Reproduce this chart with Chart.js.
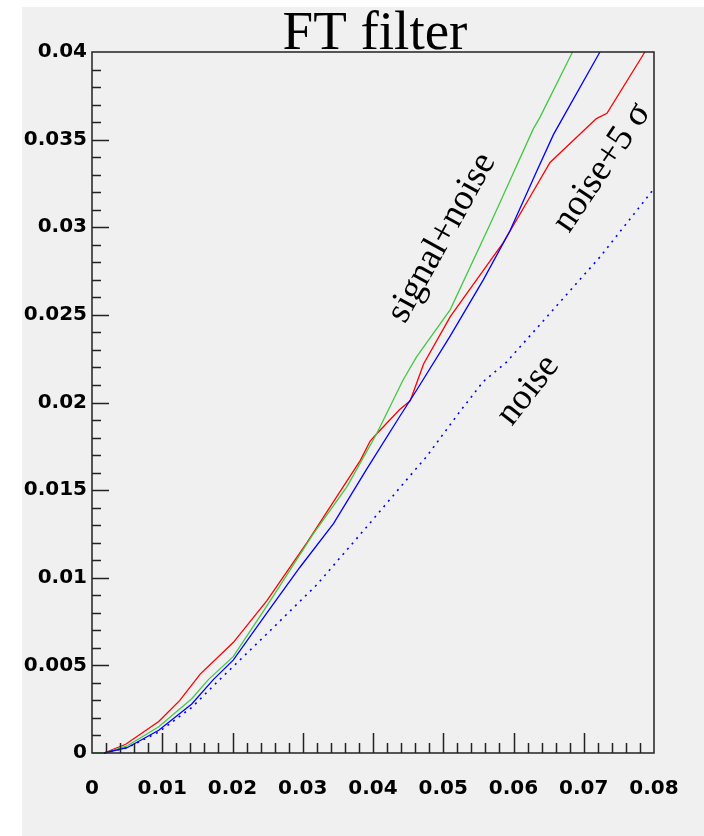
<!DOCTYPE html>
<html>
<head>
<meta charset="utf-8">
<title>FT filter</title>
<script src="https://cdn.jsdelivr.net/npm/chart.js@4.4.1/dist/chart.umd.min.js"></script>
<style>
  html, body { margin: 0; padding: 0; background: #ffffff; }
  canvas { display: block; }
</style>
</head>
<body>
<canvas id="ftChart" width="704" height="836"></canvas>
<script>
// efficiency curves, x and y kept separately per curve
const greenX = [0, 0.0017, 0.005, 0.0095, 0.0142, 0.0166, 0.0201, 0.0249, 0.0315, 0.0363, 0.0405, 0.0443, 0.0462, 0.0510, 0.0567, 0.0584, 0.0628, 0.0638, 0.0684]
const greenY = [0, 0, 0.0004, 0.0015, 0.0031, 0.0042, 0.0055, 0.0084, 0.0125, 0.0152, 0.0182, 0.0213, 0.0226, 0.0253, 0.0302, 0.0317, 0.0356, 0.0363, 0.04]

const blueX = [0.0017, 0.005, 0.0095, 0.0142, 0.0173, 0.0201, 0.0249, 0.0296, 0.0344, 0.0391, 0.0438, 0.0462, 0.0510, 0.0557, 0.0595, 0.0633, 0.0657, 0.0723]
const blueY = [0, 0.0003, 0.0013, 0.0028, 0.0042, 0.0053, 0.0080, 0.0106, 0.0131, 0.0162, 0.0192, 0.0207, 0.0238, 0.0270, 0.0298, 0.0332, 0.0353, 0.04]

const redX = [0.0017, 0.0048, 0.0095, 0.0125, 0.0154, 0.0201, 0.0249, 0.0306, 0.0348, 0.0382, 0.0396, 0.0405, 0.0438, 0.0453, 0.0472, 0.0510, 0.0567, 0.0585, 0.0623, 0.0652, 0.0718, 0.0733, 0.0787]
const redY = [0, 0.0005, 0.0018, 0.0030, 0.0045, 0.0063, 0.0087, 0.0120, 0.0146, 0.0167, 0.0178, 0.0182, 0.0196, 0.0201, 0.0222, 0.0249, 0.0281, 0.0291, 0.0317, 0.0337, 0.0362, 0.0365, 0.04]

const noiseX = [0.0017, 0.005, 0.0095, 0.0142, 0.0182, 0.0249, 0.0320, 0.0391, 0.0448, 0.0476, 0.0524, 0.0557, 0.0590, 0.0661, 0.0723, 0.0800]
const noiseY = [0, 0.0003, 0.0012, 0.0026, 0.0042, 0.0068, 0.0096, 0.0129, 0.0156, 0.0169, 0.0195, 0.0212, 0.0223, 0.0255, 0.0283, 0.0322]

const xTickLabels = ['0', '0.01', '0.02', '0.03', '0.04', '0.05', '0.06', '0.07', '0.08']
const yTickLabels = ['0', '0.005', '0.01', '0.015', '0.02', '0.025', '0.03', '0.035', '0.04']

// curve labels: text, anchor in data units, rotation in degrees
const curveLabels = ['signal+noise', 'noise', 'noise+5 σ']
const curveLabelX = [0.0498, 0.0621, 0.0726]
const curveLabelY = [0.0294, 0.0207, 0.0334]
const curveLabelAngle = [-61, -52, -56]

const BG = '#f0f0f0'
const INK = '#222222'

function toPoints(xs, ys) {
    return xs.map((x, i) => ({ x: x, y: ys[i] }))
}

const backdrop = {
    id: 'backdrop',
    beforeDraw(chart) {
        const ctx = chart.ctx
        ctx.save()
        ctx.fillStyle = '#ffffff'
        ctx.fillRect(0, 0, chart.width, chart.height)
        ctx.fillStyle = BG
        ctx.fillRect(22, 7, chart.width - 22, chart.height - 7)
        ctx.restore()
    }
}

// frame with inward major/minor ticks
const frame = {
    id: 'frame',
    afterDatasetsDraw(chart) {
        const ctx = chart.ctx
        const a = chart.chartArea
        const xs = chart.scales.x
        const ys = chart.scales.y
        ctx.save()
        ctx.strokeStyle = INK
        ctx.lineWidth = 1.5
        ctx.strokeRect(a.left, a.top, a.right - a.left, a.bottom - a.top)

        ctx.beginPath()
        for (let i = 1; i < 40; i++) {
            const px = Math.round(xs.getPixelForValue(i * 0.002)) + 0.5
            const len = i % 5 === 0 ? 20 : 10
            ctx.moveTo(px, a.bottom)
            ctx.lineTo(px, a.bottom - len)
        }
        for (let i = 1; i < 40; i++) {
            const py = Math.round(ys.getPixelForValue(i * 0.001)) + 0.5
            const len = i % 5 === 0 ? 17 : 9
            ctx.moveTo(a.left, py)
            ctx.lineTo(a.left + len, py)
        }
        ctx.stroke()
        ctx.restore()
    }
}

const texts = {
    id: 'texts',
    afterDraw(chart) {
        const ctx = chart.ctx
        const a = chart.chartArea
        ctx.save()
        ctx.fillStyle = '#000000'
        ctx.textAlign = 'center'
        ctx.textBaseline = 'alphabetic'
        ctx.font = '55px "Liberation Serif", serif'
        ctx.fillText('FT filter', (a.left + a.right) / 2 + 2, 49)

        ctx.font = '37px "Liberation Serif", serif'
        ctx.textBaseline = 'middle'
        curveLabels.forEach((label, i) => {
            const px = chart.scales.x.getPixelForValue(curveLabelX[i])
            const py = chart.scales.y.getPixelForValue(curveLabelY[i])
            ctx.save()
            ctx.translate(px, py)
            ctx.rotate(curveLabelAngle[i] * Math.PI / 180)
            ctx.fillText(label, 0, 0)
            ctx.restore()
        })
        ctx.restore()
    }
}

const tickFont = { family: '"DejaVu Sans", sans-serif', size: 20, weight: 'bold' }

new Chart(document.getElementById('ftChart'), {
    type: 'scatter',
    data: {
        datasets: [
            { label: 'noise', data: toPoints(noiseX, noiseY), borderColor: '#0000ff', borderWidth: 1.6, borderDash: [2, 5] },
            { label: 'blue', data: toPoints(blueX, blueY), borderColor: '#0000ff', borderWidth: 1.3 },
            { label: 'signal+noise', data: toPoints(greenX, greenY), borderColor: '#44c844', borderWidth: 1.3 },
            { label: 'noise+5 sigma', data: toPoints(redX, redY), borderColor: '#ff0000', borderWidth: 1.3 }
        ]
    },
    options: {
        responsive: false,
        animation: false,
        showLine: true,
        clip: false,
        layout: { padding: { top: 52, right: 50, left: 0, bottom: 0 } },
        elements: {
            point: { radius: 0, hoverRadius: 0 },
            line: { tension: 0, fill: false }
        },
        plugins: {
            legend: { display: false },
            title: { display: false },
            tooltip: { enabled: false }
        },
        scales: {
            x: {
                type: 'linear',
                min: 0,
                max: 0.08,
                grid: { display: false, drawTicks: false },
                border: { display: false },
                afterFit(scale) { scale.height = 83 },
                ticks: {
                    stepSize: 0.01,
                    padding: 24,
                    color: '#000000',
                    font: tickFont,
                    maxRotation: 0,
                    callback: (v) => xTickLabels[Math.round(v / 0.01)]
                }
            },
            y: {
                type: 'linear',
                min: 0,
                max: 0.04,
                grid: { display: false, drawTicks: false },
                border: { display: false },
                afterFit(scale) { scale.width = 92 },
                ticks: {
                    stepSize: 0.005,
                    padding: 5,
                    color: '#000000',
                    font: tickFont,
                    callback: (v) => yTickLabels[Math.round(v / 0.005)]
                }
            }
        }
    },
    plugins: [backdrop, frame, texts]
})
</script>
</body>
</html>
